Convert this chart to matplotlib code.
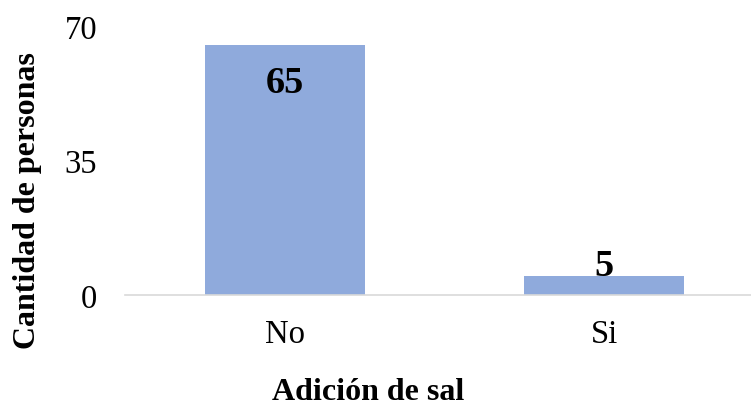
import matplotlib.pyplot as plt

# Data
categories = ["No", "Si"]
counts = [65, 5]
y_ticks = [0, 35, 70]

plt.rcParams['font.family'] = ['Liberation Serif', 'DejaVu Serif']

fig = plt.figure(figsize=(7.51, 4.06), dpi=100)
ax = fig.add_axes([125 / 751, 110 / 406, 639 / 751, 269 / 406])

x = list(range(len(categories)))
bars = ax.bar(x, counts, width=0.5, color='#8FAADC')

ax.set_xlim(-0.5, 1.5)
ax.set_ylim(0, 70)
ax.set_yticks(y_ticks)
ax.set_xticks(x)
ax.set_xticklabels(categories)
ax.tick_params(axis='both', length=0, labelsize=23.5)
ax.tick_params(axis='y', pad=20)
ax.tick_params(axis='x', pad=17)

for side in ['top', 'right', 'left']:
    ax.spines[side].set_visible(False)
ax.spines['bottom'].set_color('#D9D9D9')
ax.spines['bottom'].set_linewidth(1.2)

# Value labels: first inside the bar top, second sitting on top
ax.annotate(str(counts[0]), (x[0], counts[0]), xytext=(0, -14), textcoords='offset points',
            ha='center', va='top', fontsize=27.5, fontweight='bold')
ax.annotate(str(counts[1]), (x[1], counts[1]), xytext=(0, -5), textcoords='offset points',
            ha='center', va='bottom', fontsize=27.5, fontweight='bold')

fig.text(0.037, 0.505, "Cantidad de personas", rotation=90, ha='center', va='center',
         fontsize=23, fontweight='bold')
fig.text(368 / 751, 0.034, "Adición de sal", ha='center', va='center',
         fontsize=23, fontweight='bold')

fig.savefig('out.png', dpi=100)
